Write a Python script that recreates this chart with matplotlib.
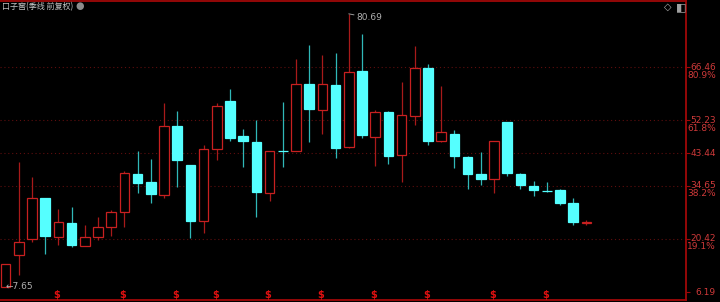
import matplotlib
matplotlib.use('Agg')
import matplotlib.pyplot as plt
import matplotlib.transforms as mtrans
import numpy as np

plt.rcParams['font.family'] = ['Noto Sans CJK SC', 'DejaVu Sans']

# ---------------- data ----------------
opens = [7.65, 16.14, 20.50, 31.32, 21.04, 24.78, 18.63, 20.96, 23.63, 27.65,
         37.82, 35.60, 32.12, 50.67, 40.23, 25.16, 44.43, 57.44, 47.91, 46.30,
         32.81, 43.98, 43.98, 61.99, 54.95, 61.56, 44.97, 65.31, 47.80, 54.33,
         42.83, 53.34, 66.19, 46.57, 48.61, 42.37, 37.82, 36.40, 51.66, 37.82,
         34.69, 33.35, 33.46, 29.98, 24.78]
highs = [13.80, 40.95, 37.10, 31.50, 28.45, 28.99, 24.09, 26.23, 28.18, 38.54,
         44.06, 41.83, 56.90, 54.60, 40.30, 45.58, 56.90, 60.49, 49.78, 52.27,
         43.90, 57.01, 68.68, 72.43, 69.67, 70.21, 80.69, 75.29, 54.95, 54.60,
         62.36, 72.00, 67.26, 61.37, 49.68, 42.64, 43.63, 46.70, 51.70, 38.09,
         35.95, 35.76, 33.70, 31.40, 25.43]
lows = [7.65, 10.79, 19.54, 16.33, 18.82, 18.36, 18.60, 20.15, 21.30, 23.71,
        32.81, 29.98, 31.40, 34.34, 20.77, 21.95, 41.65, 46.73, 39.61, 26.39,
        30.59, 39.77, 43.90, 46.39, 48.45, 42.18, 44.80, 47.38, 40.04, 40.50,
        35.60, 51.02, 45.66, 46.50, 39.51, 33.80, 34.88, 32.65, 37.36, 33.72,
        32.01, 33.08, 29.60, 24.25, 24.17]
closes = [13.73, 19.54, 31.32, 21.14, 24.89, 18.74, 20.88, 23.71, 27.65, 38.17,
          35.41, 32.47, 50.59, 41.49, 25.24, 44.43, 55.94, 47.46, 46.65, 33.00,
          43.90, 43.95, 61.91, 55.14, 61.91, 44.86, 65.04, 48.26, 54.33, 42.72,
          53.53, 66.19, 46.57, 48.98, 42.64, 37.74, 36.48, 46.65, 38.09, 34.80,
          33.54, 33.30, 30.06, 24.89, 24.78]

fib_levels = [66.46, 52.23, 43.44, 34.65, 20.42, 6.19]
fib_pcts = ['80.9%', '61.8%', '', '38.2%', '19.1%', '']
dotted_levels = [66.46, 52.23, 43.44, 34.65, 20.42]
dividend_idx = [4, 9, 13, 16, 20, 24, 28, 32, 37, 41]

title = '口子窖(季线 前复权)'
high_label = '80.69'
low_label = '7.65'

# ---------------- style ----------------
RED = '#c82020'
RED_WICK = '#a81a1a'
CYAN = '#55ffff'
CYAN_WICK = '#30b8b8'
AXIS_RED = '#a00808'
DOT_RED = '#5e0e0e'
LABEL_RED = '#d03a3a'
GRAY = '#c4c4c4'

fig = plt.figure(figsize=(7.2, 3.02), dpi=100, facecolor='black')
ax = fig.add_axes([0, 2 / 302, 686 / 720, 299 / 302])
ax.set_facecolor('black')

o = np.array(opens); h = np.array(highs); l = np.array(lows); c = np.array(closes)
x = np.arange(len(o))
up = c >= o

ax.set_xlim(-0.424, 51.55)
ax.set_ylim(4.09, 84.13)

# dotted fib lines
for lv in dotted_levels:
    ax.axhline(lv, color=DOT_RED, lw=0.8, ls=(0, (1, 2.5)), zorder=0)

# wicks
ax.vlines(x, l, h, colors=[RED_WICK if u else CYAN_WICK for u in up], lw=0.9, zorder=1)

# bodies
bottoms = np.minimum(o, c)
heights = np.maximum(np.abs(c - o), 0.06)
ax.bar(x, heights, bottom=bottoms, width=0.73,
       color=['black' if u else CYAN for u in up],
       edgecolor=[RED if u else CYAN for u in up], linewidth=0.9, zorder=2)

# spines
ax.spines['left'].set_visible(False)
for s in ['top', 'bottom', 'right']:
    ax.spines[s].set_color(AXIS_RED)
    ax.spines[s].set_linewidth(1.3)
ax.set_xticks([])
ax.yaxis.tick_right()
ax.set_yticks(fib_levels)
ax.set_yticklabels([])
ax.tick_params(axis='y', colors=AXIS_RED, length=3, width=0.8, direction='out')

# right labels
bt = mtrans.blended_transform_factory(ax.transAxes, ax.transData)
for lv, pct in zip(fib_levels, fib_pcts):
    ax.annotate(f'{lv:.2f}', xy=(1, lv), xycoords=bt, xytext=(30, 0),
                textcoords='offset pixels', ha='right', va='center',
                fontsize=6.5, color=LABEL_RED, family='DejaVu Sans', annotation_clip=False)
    if pct:
        ax.annotate(pct, xy=(1, lv), xycoords=bt, xytext=(30, -8),
                    textcoords='offset pixels', ha='right', va='center',
                    fontsize=6.5, color=LABEL_RED, family='DejaVu Sans', annotation_clip=False)

# high / low annotations
ih = int(np.argmax(h))
ax.annotate(high_label, xy=(x[ih], h[ih]), xytext=(8, -4), textcoords='offset pixels',
            ha='left', va='center', fontsize=6.5, color='#b0b0b0', family='DejaVu Sans',
            arrowprops=dict(arrowstyle='-', color='#9a9a9a', lw=0.7, shrinkA=0, shrinkB=0))
il = int(np.argmin(l))
ax.annotate('←' + low_label, xy=(x[il], l[il]), xytext=(0, 0), textcoords='offset pixels',
            ha='left', va='center', fontsize=6.5, color='#b0b0b0', family='DejaVu Sans')

# dividend markers
bx = mtrans.blended_transform_factory(ax.transData, ax.transAxes)
for i in dividend_idx:
    ax.text(x[i] - 0.12, 0.018, '$', transform=bx, ha='center', va='center',
            fontsize=7, fontweight='bold', color='#e01010', family='DejaVu Sans')

# title and icons
fig.text(2 / 720, 1 - 7 / 302, title, ha='left', va='center', fontsize=5.8, color=GRAY)
fig.text(80 / 720, 1 - 6.5 / 302, '●', ha='center', va='center', fontsize=7,
         color='#8c8c8c', family='DejaVu Sans')
fig.text(668 / 720, 1 - 7 / 302, '◇', ha='center', va='center', fontsize=7,
         color='#b4b4b4', family='DejaVu Sans')
fig.text(681 / 720, 1 - 7 / 302, '◧', ha='center', va='center', fontsize=8,
         color='#a0a0a0', family='DejaVu Sans')

fig.savefig('out.png', dpi=100, facecolor='black')
